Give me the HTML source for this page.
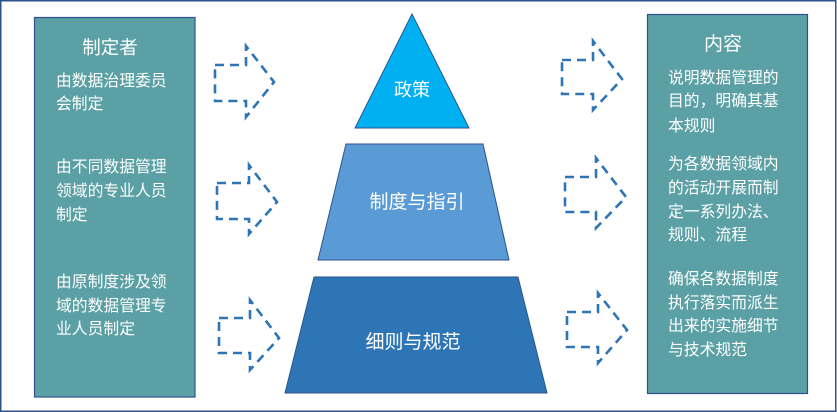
<!DOCTYPE html>
<html><head><meta charset="utf-8"><style>
html,body{margin:0;padding:0;background:#fff;}
svg{display:block;}
text{font-family:"Liberation Sans","Noto Sans CJK SC",sans-serif;fill:#fff;}
</style></head><body>
<svg width="837" height="412" viewBox="0 0 837 412" xmlns="http://www.w3.org/2000/svg">
<rect x="0.75" y="0.75" width="835" height="410.5" fill="#fff" stroke="#2F528F" stroke-width="1.5"/>
<!-- left box -->
<rect x="34.5" y="17.5" width="160.5" height="379.5" fill="#5BA0A4" stroke="#2F528F" stroke-width="1.2"/>
<!-- right box -->
<rect x="647.5" y="14.5" width="160" height="379" fill="#5BA0A4" stroke="#2F528F" stroke-width="1.2"/>
<!-- pyramid -->
<polygon points="412,14 469,128 355,128" fill="#00B0F0" stroke="#2F528F" stroke-width="1"/>
<polygon points="346,144 483,144 509,260 318,260" fill="#5B9BD5" stroke="#2F528F" stroke-width="1"/>
<polygon points="314,277 518,277 547,393 285,393" fill="#2E75B6" stroke="#2F528F" stroke-width="1"/>
<!-- arrows -->
<g fill="none" stroke="#2E75B6" stroke-width="2.6" stroke-dasharray="9,6">
<polygon points="215,65 246,65 246,46 274,82 246,117 246,101 215,101"/>
<polygon points="217,183 249,183 249,165 277,202 249,234 249,219 217,219"/>
<polygon points="219,318 250,318 250,300 279,338 250,370 250,353 219,353"/>
<polygon points="562,60 593,60 593,41 622,79 593,110 593,94 562,94"/>
<polygon points="565,177 596,177 596,158 626,197 596,228 596,212 565,212"/>
<polygon points="567,312 598,312 598,293 627,330 598,363 598,347 567,347"/>
</g>
<!-- pyramid labels -->
<text x="412" y="96" font-size="18" text-anchor="middle">政策</text>
<text x="417" y="208" font-size="19" text-anchor="middle">制度与指引</text>
<text x="413" y="348" font-size="19" text-anchor="middle">细则与规范</text>
<!-- left text -->
<text x="110" y="54" font-size="18.5" text-anchor="middle">制定者</text>
<g font-size="15.8">
<text x="56" y="86">由数据治理委员</text>
<text x="56" y="109">会制定</text>
<text x="56" y="172">由不同数据管理</text>
<text x="56" y="196">领域的专业人员</text>
<text x="56" y="220">制定</text>
<text x="56" y="287">由原制度涉及领</text>
<text x="56" y="311">域的数据管理专</text>
<text x="56" y="334">业人员制定</text>
</g>
<!-- right text -->
<text x="723" y="50" font-size="19" text-anchor="middle">内容</text>
<g font-size="15.8">
<text x="668" y="83">说明数据管理的</text>
<text x="668" y="106">目的，明确其基</text>
<text x="668" y="131">本规则</text>
<text x="668" y="169">为各数据领域内</text>
<text x="668" y="193">的活动开展而制</text>
<text x="668" y="217">定一系列办法、</text>
<text x="668" y="240">规则、流程</text>
<text x="668" y="284">确保各数据制度</text>
<text x="668" y="308">执行落实而派生</text>
<text x="668" y="331">出来的实施细节</text>
<text x="668" y="355">与技术规范</text>
</g>
</svg>
</body></html>
